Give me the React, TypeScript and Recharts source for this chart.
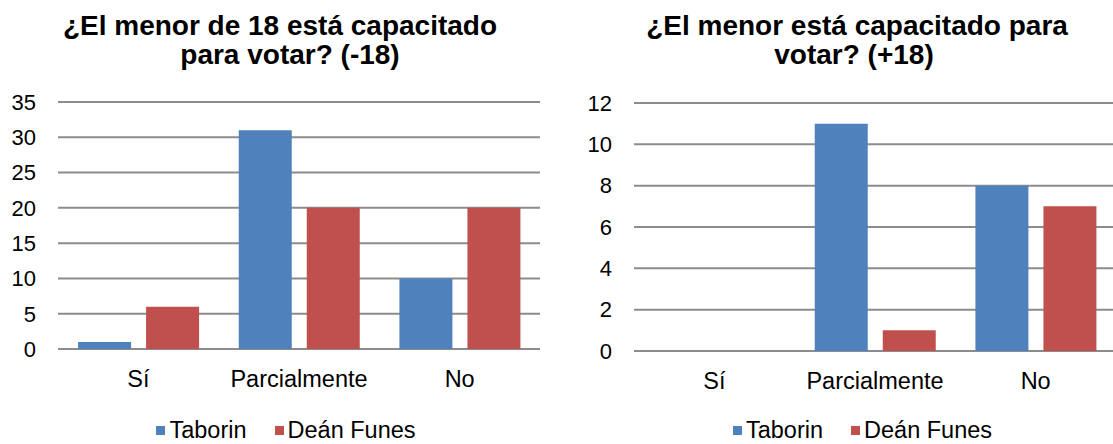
import { Bar, BarChart, CartesianGrid, Legend, XAxis, YAxis } from "recharts";

const categorias = ["Sí", "Parcialmente", "No"];
const series = ["Taborin", "Deán Funes"];
const colores = ["#4F81BD", "#C0504D"];

// menores de 18
const taborinMenores = [1, 31, 10];
const deanFunesMenores = [6, 20, 20];
// mayores de 18
const taborinMayores = [0, 11, 8];
const deanFunesMayores = [0, 1, 7];

const ticksMenores = [0, 5, 10, 15, 20, 25, 30, 35];
const ticksMayores = [0, 2, 4, 6, 8, 10, 12];

const tituloMenores = ["¿El menor de 18 está capacitado", "para votar? (-18)"];
const tituloMayores = ["¿El menor está capacitado para", "votar? (+18)"];

const FUENTE = '"Liberation Sans", Arial, sans-serif';

const armarDatos = (a: number[], b: number[]) =>
  categorias.map((cat, i) => ({ cat, [series[0]]: a[i], [series[1]]: b[i] }));

const datosMenores = armarDatos(taborinMenores, deanFunesMenores);
const datosMayores = armarDatos(taborinMayores, deanFunesMayores);

function Leyenda({ payload }: any) {
  // mantener el orden de las series, no el alfabético
  const items = [...(payload || [])].sort(
    (a: any, b: any) => series.indexOf(a.value) - series.indexOf(b.value)
  );
  return (
    <div
      style={{
        display: "flex",
        justifyContent: "center",
        alignItems: "center",
        gap: 28,
        fontSize: 23.5,
        lineHeight: "28px",
        fontFamily: FUENTE,
        color: "#000",
      }}
    >
      {items.map((p: any) => (
        <span key={p.value} style={{ display: "flex", alignItems: "center" }}>
          <span
            style={{ width: 9, height: 9, background: p.color, marginRight: 4 }}
          />
          {p.value}
        </span>
      ))}
    </div>
  );
}

type GraficaProps = {
  datos: any[];
  ticks: number[];
  width: number;
  margin: { top: number; right: number; left: number; bottom: number };
  legendLeft: number;
  legendWidth: number;
};

function Grafica({ datos, ticks, width, margin, legendLeft, legendWidth }: GraficaProps) {
  return (
    <BarChart
      width={width}
      height={444}
      data={datos}
      margin={margin}
      barCategoryGap="12.5%"
      barGap={15}
      style={{ fontFamily: FUENTE }}
    >
      <CartesianGrid vertical={false} stroke="#8c8c8c" strokeWidth={2} />
      <XAxis
        dataKey="cat"
        height={50}
        axisLine={false}
        tickLine={false}
        tickSize={0}
        tickMargin={21}
        interval={0}
        tick={{ fontSize: 23.5, fill: "#000" }}
      />
      <YAxis
        width={50}
        domain={[0, ticks[ticks.length - 1]]}
        ticks={ticks}
        interval={0}
        axisLine={false}
        tickLine={false}
        tickSize={0}
        tickMargin={22}
        tick={{ fontSize: 22, fill: "#000" }}
      />
      <Legend
        verticalAlign="bottom"
        height={30}
        content={<Leyenda />}
        wrapperStyle={{ left: legendLeft, width: legendWidth, top: 416 }}
      />
      {series.map((s, i) => (
        <Bar key={s} dataKey={s} fill={colores[i]} isAnimationActive={false} />
      ))}
    </BarChart>
  );
}

export default function App() {
  return (
    <div
      style={{
        position: "absolute",
        left: 0,
        top: 0,
        width: 1113,
        height: 444,
        overflow: "hidden",
        background: "#fff",
      }}
    >
      <svg
        width={1113}
        height={80}
        style={{ position: "absolute", left: 0, top: 0 }}
        fontFamily={FUENTE}
        fontWeight="bold"
        fontSize={28}
        fill="#000"
      >
        <text x={280} y={35} textAnchor="middle">{tituloMenores[0]}</text>
        <text x={290} y={64} textAnchor="middle">{tituloMenores[1]}</text>
        <text x={857} y={35} textAnchor="middle">{tituloMayores[0]}</text>
        <text x={854} y={64} textAnchor="middle">{tituloMayores[1]}</text>
      </svg>
      <div style={{ position: "absolute", left: 0, top: 0 }}>
        <Grafica
          datos={datosMenores}
          ticks={ticksMenores}
          width={560}
          margin={{ top: 102, right: 20, left: 8, bottom: 15 }}
          legendLeft={12}
          legendWidth={548}
        />
      </div>
      <div style={{ position: "absolute", left: 560, top: 0 }}>
        <Grafica
          datos={datosMayores}
          ticks={ticksMayores}
          width={580}
          margin={{ top: 103, right: 24, left: 24, bottom: 13 }}
          legendLeft={20}
          legendWidth={565}
        />
      </div>
    </div>
  );
}
